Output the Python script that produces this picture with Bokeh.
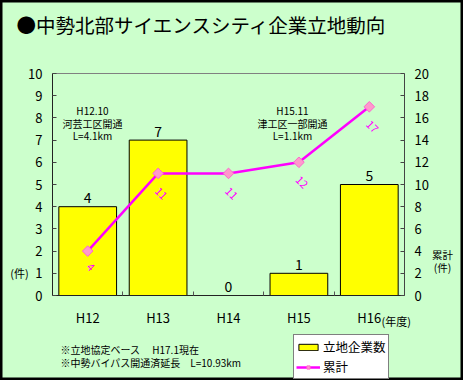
from bokeh.plotting import figure
from bokeh.models import (Range1d, LinearAxis, FixedTicker, ColumnDataSource,
                          LabelSet, Label, Legend, LegendItem)
from bokeh.core.properties import value
from bokeh.embed import file_html
from bokeh.resources import INLINE

# ---- data ----
categories = ["H12", "H13", "H14", "H15", "H16"]
firms = [4, 7, 0, 1, 5]            # 立地企業数
cumulative = [4, 11, 11, 12, 17]   # 累計
left_ticks = list(range(0, 11))
right_ticks = list(range(0, 21, 2))

# ---- layout constants (chart area inside the canvas, in px) ----
W, H = 463, 380
FL, FR, FT, FB = 52, 404, 73, 295
FONT = "Noto Sans CJK JP"
BG = "#CCFFCC"
NX = len(categories)
YMAX = 10
RMAX = 20
sx = NX / (FR - FL)
sy = YMAX / (FB - FT)
k = RMAX / YMAX

xpos = [i + 0.5 for i in range(NX)]

p = figure(width=W, height=H,
           x_range=Range1d(-FL * sx, NX + (W - FR) * sx),
           y_range=Range1d(-(H - FB) * sy, YMAX + FT * sy),
           output_backend="svg", toolbar_location=None, title_location=None,
           min_border=0, min_border_left=0, min_border_right=0,
           min_border_top=0, min_border_bottom=0,
           background_fill_color=BG, border_fill_color=BG,
           outline_line_color="black", outline_line_width=4)
p.extra_y_ranges = {"right": Range1d(-(H - FB) * sy * k, RMAX + FT * sy * k)}
p.xgrid.visible = False
p.ygrid.visible = False


def style_axis(ax, size="13px"):
    ax.major_label_text_font = FONT
    ax.major_label_text_font_size = size
    ax.major_label_text_color = "black"
    ax.minor_tick_line_color = None


# x axis (chart bottom)
xa = p.xaxis[0]
xa.fixed_location = 0
xa.bounds = (0, NX)
xa.ticker = FixedTicker(ticks=xpos, minor_ticks=[i for i in range(1, NX)])
xa.major_label_overrides = {x: c for x, c in zip(xpos, categories)}
style_axis(xa)
xa.major_tick_in = 0
xa.major_tick_out = 0
xa.minor_tick_in = 4
xa.minor_tick_out = 0
xa.minor_tick_line_color = "#555555"
xa.axis_line_color = "#222222"
xa.major_label_standoff = 12

# left axis
ya = p.yaxis[0]
ya.fixed_location = 0
ya.bounds = (0, YMAX)
ya.ticker = FixedTicker(ticks=left_ticks)
style_axis(ya)
ya.major_tick_in = 4
ya.major_tick_out = 0
ya.axis_line_color = "#222222"
ya.major_tick_line_color = "#444444"
ya.major_label_standoff = 10

# right axis
ra = LinearAxis(y_range_name="right", ticker=FixedTicker(ticks=right_ticks),
                fixed_location=NX, bounds=(0, RMAX))
style_axis(ra)
ra.major_tick_in = 4
ra.major_tick_out = 0
ra.axis_line_color = "#444444"
ra.major_tick_line_color = "#444444"
ra.major_label_standoff = 10
p.add_layout(ra, "right")

# top edge of the chart area
ta = LinearAxis(fixed_location=YMAX, bounds=(0, NX), ticker=FixedTicker(ticks=[]),
                axis_line_color="#808080", major_tick_line_color=None,
                minor_tick_line_color=None, major_label_text_font_size="0px")
p.add_layout(ta, "above")

# bars
src = ColumnDataSource(dict(x=xpos, top=firms, label=[str(v) for v in firms]))
bars = p.vbar(x="x", top="top", width=0.82, source=src,
              fill_color="#FFFF00", line_color="black", line_width=1)
p.add_layout(LabelSet(x="x", y="top", text="label", source=src,
                      text_align="center", text_baseline="middle", y_offset=9,
                      text_font=value(FONT), text_font_size="14px",
                      text_color="black"))

# cumulative line
csrc = ColumnDataSource(dict(x=xpos, y=cumulative,
                             label=[str(v) for v in cumulative],
                             yoff=[-(12 + 4 * len(str(v))) for v in cumulative]))
line = p.line(x="x", y="y", source=csrc, y_range_name="right",
              line_color="#FF00FF", line_width=2.5)
marks = p.scatter(x="x", y="y", source=csrc, y_range_name="right",
                  marker="square", angle=45, angle_units="deg", size=7.5,
                  fill_color="#FF99CC", line_color="#FF66CC", line_width=1)
p.add_layout(LabelSet(x="x", y="y", text="label", source=csrc, y_range_name="right",
                      angle=-45, angle_units="deg", x_offset=3, y_offset="yoff",
                      text_align="center", text_baseline="middle",
                      text_font=value(FONT), text_font_size="11px",
                      text_color="#FF00FF"))


def dx(fx):
    return (fx - FL) * sx


def dy(fy):
    return (FB - fy) * sy


def add_text(fx, fy, txt, size, align="left", color="black"):
    p.add_layout(Label(x=dx(fx), y=dy(fy), text=txt, text_align=align,
                       text_baseline="middle", text_font=FONT,
                       text_font_size=size, text_color=color))


add_text(16, 23.5, "●中勢北部サイエンスシティ企業立地動向", "19.5px")
add_text(92, 109.5, "H12.10", "10px", "center")
add_text(92, 122.5, "河芸工区開通", "10px", "center")
add_text(92, 135, "L=4.1km", "10px", "center")
add_text(292, 109.5, "H15.11", "10px", "center")
add_text(292, 122.5, "津工区一部開通", "10px", "center")
add_text(292, 135, "L=1.1km", "10px", "center")
add_text(19, 272, "(件)", "11px", "center")
add_text(442, 254, "累計", "10.5px", "center")
add_text(442, 267, "(件)", "10.5px", "center")
add_text(381, 320, "(年度)", "11px", "left")
add_text(60, 349, "※立地協定ベース　 H17.1現在", "10px", "left")
add_text(60, 362, "※中勢バイパス開通済延長　L=10.93km", "10px", "left")

legend = Legend(items=[LegendItem(label="立地企業数", renderers=[bars]),
                       LegendItem(label="累計", renderers=[line, marks])],
                location=(293, 1), orientation="vertical",
                border_line_color="black", border_line_width=1,
                background_fill_color="white", background_fill_alpha=1,
                label_text_font=FONT, label_text_font_size="12.5px",
                label_text_color="black",
                glyph_width=24, glyph_height=8, label_height=14,
                spacing=1, padding=2, margin=0, label_standoff=3)
p.add_layout(legend)

open("out.html", "w").write(file_html(p, INLINE))
